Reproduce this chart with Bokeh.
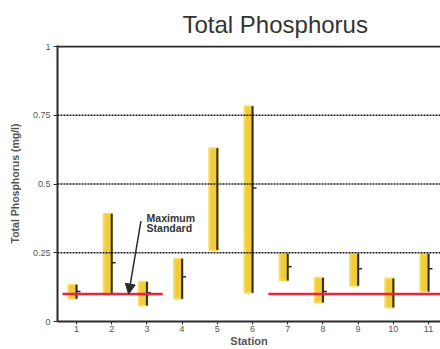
import math

from bokeh.core.properties import value
from bokeh.embed import file_html
from bokeh.models import Arrow, FixedTicker, NormalHead, Range1d, Span
from bokeh.plotting import figure
from bokeh.resources import INLINE

# Total phosphorus (mg/l) by sampling station: observed range and mean
stations = [1, 2, 3, 4, 5, 6, 7, 8, 9, 10, 11]
tp_max = [0.134, 0.392, 0.145, 0.228, 0.630, 0.783, 0.246, 0.159, 0.246, 0.156, 0.246]
tp_min = [0.083, 0.101, 0.058, 0.083, 0.260, 0.105, 0.149, 0.069, 0.130, 0.051, 0.109]
tp_mean = [0.109, 0.214, 0.105, 0.163, math.nan, 0.486, 0.199, 0.109, 0.192, 0.101, 0.192]

# Maximum standard for total phosphorus and the station spans it is drawn over
max_standard = 0.1
standard_from = [0.6, 6.45]
standard_to = [3.45, 11.6]

y_ticks = [0, 0.25, 0.5, 0.75, 1]
y_tick_labels = ["0", "0.25", "0.5", "0.75", "1"]
grid_levels = [0.25, 0.5, 0.75]

FONT = "Liberation Sans"
INK = "#2b2b2b"

p = figure(
    width=440,
    height=349,
    x_range=Range1d(0.46, 11.34),
    y_range=Range1d(0, 1.004),
    output_backend="svg",
    toolbar_location=None,
    min_border_left=57,
    min_border_right=0,
    min_border_top=45,
    min_border_bottom=28,
)
p.outline_line_color = None
p.background_fill_color = "white"
p.border_fill_color = "white"
p.xgrid.visible = False
p.ygrid.visible = False

# title
p.title.text = "Total Phosphorus"
p.title.text_font = FONT
p.title.text_font_size = "24px"
p.title.text_font_style = "normal"
p.title.text_color = "#333333"
p.title.align = "left"
p.title.offset = 125
p.title.standoff = 12
p.title.vertical_align = "top"
p.title.text_line_height = 0.8

# axes
p.xaxis.ticker = FixedTicker(ticks=stations)
p.xaxis.axis_label = "Station"
p.yaxis.ticker = FixedTicker(ticks=y_ticks)
p.yaxis.major_label_overrides = {t: s for t, s in zip(y_ticks, y_tick_labels)}
p.yaxis.axis_label = "Total Phosphorus (mg/l)"
for ax in (p.xaxis[0], p.yaxis[0]):
    ax.axis_line_color = INK
    ax.axis_line_width = 2
    ax.major_tick_line_color = INK
    ax.major_tick_line_width = 1
    ax.major_tick_in = 0
    ax.major_tick_out = 4
    ax.minor_tick_line_color = None
    ax.major_label_text_font = FONT
    ax.major_label_text_font_size = "9px"
    ax.major_label_text_color = "#555555"
    ax.axis_label_text_font = FONT
    ax.axis_label_text_font_style = "bold"
    ax.axis_label_text_color = "#555555"
p.xaxis.major_tick_out = 3
p.xaxis.major_label_standoff = 1
p.xaxis.axis_label_standoff = 0
p.xaxis.axis_label_text_font_size = "11px"
p.yaxis.major_label_standoff = 3
p.yaxis.axis_label_standoff = 9
p.yaxis.axis_label_text_font_size = "10.5px"

# dotted reference levels and the solid top rule
for lvl in grid_levels:
    p.add_layout(Span(location=lvl, dimension="width", line_color="#1e1e1e",
                      line_width=1.5, line_dash="2 1"))
p.add_layout(Span(location=1, dimension="width", line_color=INK, line_width=2))

# highlighted range bars sit just left of each station, range line on the station
unit_px = 35.2
bar_left = [s - 8 / unit_px for s in stations]
bar_right = [s + 0.5 / unit_px for s in stations]
p.quad(left=bar_left, right=bar_right, bottom=tp_min, top=tp_max,
       fill_color="#f3cd38", line_color="#f6da62", line_width=2)
p.segment(x0=stations, y0=tp_min, x1=stations, y1=tp_max,
          line_color=INK, line_width=2)

# mean marks
mean_x = [s for s, m in zip(stations, tp_mean) if not math.isnan(m)]
mean_y = [m for m in tp_mean if not math.isnan(m)]
p.segment(x0=mean_x, y0=mean_y, x1=[x + 4 / unit_px for x in mean_x], y1=mean_y,
          line_color=INK, line_width=1.5)

# maximum standard
p.segment(x0=standard_from, y0=[max_standard] * 2, x1=standard_to,
          y1=[max_standard] * 2, line_color="#e8263c", line_width=2.5)

p.text(x=[2.99, 2.99], y=[0.377, 0.341], text=["Maximum", "Standard"],
       text_font=value(FONT), text_font_size="10.5px", text_font_style="bold",
       text_color="#333333", text_baseline="alphabetic", text_align="left")
p.add_layout(Arrow(x_start=2.83, y_start=0.365, x_end=2.48, y_end=max_standard,
                   line_color=INK, line_width=1.5,
                   end=NormalHead(size=10, fill_color=INK, line_color=INK)))

open("out.html", "w").write(file_html(p, INLINE))
